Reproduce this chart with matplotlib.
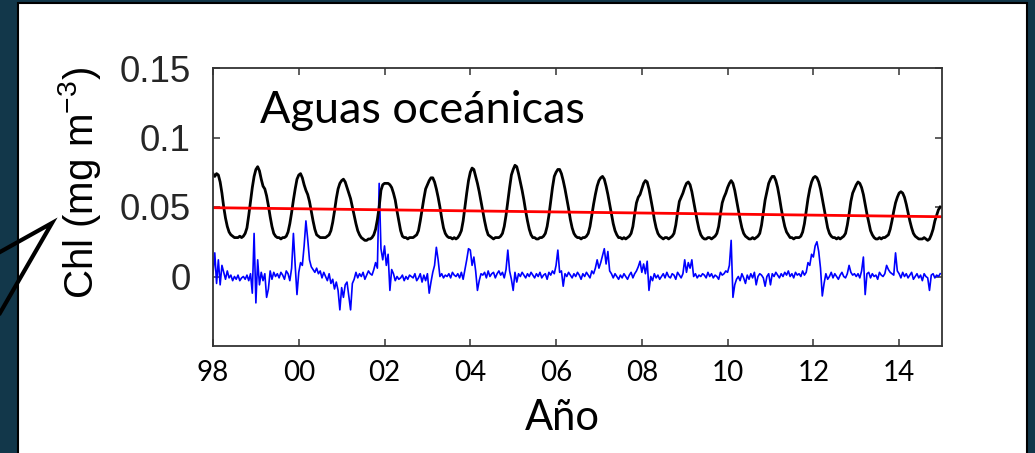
import numpy as np
import matplotlib
matplotlib.use("Agg")
import matplotlib.pyplot as plt
from matplotlib.patches import Rectangle
from matplotlib.lines import Line2D

plt.rcParams['mathtext.default'] = 'regular'

# Chl climatologia (x 1e-3 mg m-3), 24 valores por año, 1998-2014
chl_media = [
    74, 72, 74, 73, 68, 60, 50, 42, 36, 32, 30, 29, 28, 28, 28, 29, 28, 29, 31, 35, 44, 54, 64, 72,  # 98
    77, 79, 76, 70, 65, 63, 58, 51, 43, 36, 31, 29, 28, 28, 27, 28, 28, 29, 32, 38, 46, 55, 63, 70,  # 99
    73, 74, 71, 66, 62, 59, 54, 47, 40, 34, 30, 29, 28, 28, 28, 28, 29, 30, 33, 39, 47, 56, 63, 67,  # 00
    69, 70, 68, 64, 60, 56, 50, 44, 38, 33, 30, 28, 27, 26, 26, 27, 27, 28, 30, 34, 41, 50, 62, 66,  # 01
    67, 67, 67, 66, 64, 60, 55, 47, 40, 33, 29, 28, 28, 27, 28, 28, 28, 29, 30, 33, 40, 48, 56, 63,  # 02
    66, 69, 71, 71, 68, 63, 57, 50, 42, 35, 31, 29, 28, 28, 27, 28, 27, 28, 30, 33, 40, 50, 60, 69,  # 03
    75, 78, 77, 72, 67, 61, 54, 47, 40, 34, 30, 29, 28, 27, 28, 28, 28, 29, 31, 36, 44, 54, 64, 73,  # 04
    77, 80, 79, 74, 68, 62, 55, 47, 40, 34, 30, 28, 28, 27, 27, 28, 28, 29, 31, 36, 44, 54, 64, 72,  # 05
    75, 77, 77, 74, 69, 63, 56, 49, 41, 35, 31, 29, 28, 28, 27, 28, 28, 29, 31, 36, 44, 52, 59, 65,  # 06
    69, 71, 72, 70, 65, 59, 52, 45, 38, 33, 30, 28, 28, 27, 28, 27, 28, 29, 31, 36, 45, 53, 57, 59,  # 07
    63, 67, 69, 68, 63, 56, 49, 41, 35, 31, 29, 28, 27, 28, 28, 27, 28, 29, 31, 37, 46, 54, 57, 60,  # 08
    64, 67, 68, 66, 61, 54, 47, 40, 34, 30, 28, 27, 27, 28, 28, 27, 28, 29, 31, 36, 45, 53, 57, 60,  # 09
    64, 67, 69, 67, 62, 55, 48, 41, 35, 31, 29, 28, 27, 27, 28, 27, 28, 29, 31, 37, 46, 55, 61, 67,  # 10
    70, 72, 72, 69, 64, 57, 49, 42, 36, 32, 30, 28, 28, 27, 28, 28, 28, 29, 32, 38, 47, 56, 63, 68,  # 11
    71, 72, 71, 68, 63, 56, 49, 42, 35, 31, 29, 28, 28, 27, 28, 27, 28, 29, 31, 37, 45, 54, 60, 63,  # 12
    66, 68, 67, 64, 59, 52, 45, 39, 33, 30, 28, 27, 27, 28, 27, 28, 28, 29, 30, 34, 40, 47, 53, 57,  # 13
    60, 61, 60, 57, 52, 46, 40, 35, 31, 29, 28, 27, 27, 27, 28, 27, 26, 27, 30, 34, 40, 44, 48, 50,  # 14
]

# anomalias (x 1e-3 mg m-3)
chl_anom = [
    2, 17, -5, 12, -6, 8, 3, -2, 4, -1, 1, -3, 0, -2, 1, -3, -1, 0, -2, 1, -3, 2, -12, 31,
    -19, 12, -6, 3, -3, 2, -15, -9, 4, -2, 3, 0, 2, -1, 3, 1, -2, 4, 2, -3, 6, 31, 8, -13,
    3, 10, 8, 22, 40, 27, 12, 7, 5, 3, 6, 2, 4, -1, 3, 0, -3, 2, -5, -2, -9, -4, -10, -24,
    -8, -15, -6, -4, -14, -24, -5, -2, 3, -1, 2, 0, 3, -2, 1, 4, 2, 1, 5, 10, 6, 67, 20, 12,
    22, 8, 16, -10, 5, 2, -3, 0, -2, -1, 1, -3, 0, -2, 1, 0, -1, 2, -3, -1, 2, -4, 1, -3,
    2, -12, -4, 3, 8, 21, 12, 0, 2, -1, 1, 0, 2, -1, 3, 1, 0, 2, -1, 3, -2, 5, 12, 20,
    19, 8, 14, 4, -10, -3, 2, 1, 3, -1, 4, 0, 2, 3, -1, 2, 4, 1, 3, -1, 5, 19, 4, -2,
    -10, 3, -4, 2, 0, 3, 1, -1, 2, 0, 3, 1, -1, 2, 0, 3, -1, 1, 2, -2, 3, 1, 4, 2,
    8, 19, 3, 4, -7, 2, 0, 3, 1, -1, 2, 0, 3, 1, -2, 2, 0, 3, 1, -1, 4, 2, 6, 12,
    6, 10, 15, 20, 9, 18, 4, 2, -1, 2, 0, -2, 1, -1, 2, 0, -2, 1, 3, -1, 2, 4, 7, 11,
    3, 9, 2, 11, -10, 0, -3, 2, -1, 1, -2, 0, 2, -1, 3, 0, -1, 2, 1, -2, 3, 1, -1, 2,
    12, 3, 10, 6, 12, 0, 2, -1, 1, 0, 2, 1, -1, 3, 0, 2, -1, 1, 0, -2, 3, 1, 2, 4,
    3, 8, 26, -15, -6, -2, 0, -3, 2, -1, -5, 1, -2, 2, -1, 3, -6, 0, 2, 1, -1, -7, 0, 2,
    -6, 2, 0, 3, 1, -1, 2, 0, 3, 1, 4, 0, 2, -1, 3, 1, 2, 0, 4, 1, 3, 10, 8, 16,
    14, 22, 25, 18, 6, -14, -5, 2, -2, 0, 3, -1, 2, 0, -2, 1, 3, 0, -1, 2, 8, 3, 1, 2,
    0, 2, -1, 4, 14, -13, 2, 3, -1, 2, 0, 1, -2, 3, 1, 0, 2, 8, 5, 3, 2, 1, 17, 4,
    2, -1, 3, 0, 2, -1, 1, 3, -2, 0, 2, -1, 1, -3, 2, 0, -1, -10, 1, 2, -1, 1, 0, 2,
]

# tendencia lineal
trend_years = [1998, 2015]
trend_vals = [0.0495, 0.043]

xticks = [1998, 2000, 2002, 2004, 2006, 2008, 2010, 2012, 2014]
xlabels = ['98', '00', '02', '04', '06', '08', '10', '12', '14']
yticks = [0, 0.05, 0.1, 0.15]
ylabels = ['0', '0.05', '0.1', '0.15']

media = np.array(chl_media) / 1000.0
anom = np.array(chl_anom) / 1000.0
t = 1998 + np.arange(len(media)) / 24.0

W, H = 1035, 453
fig = plt.figure(figsize=(W / 100, H / 100), dpi=100, facecolor='#12374a')

# panel blanco
fig.add_artist(Rectangle((18 / W, -0.05), (1027 - 18) / W, 1 - 3 / H + 0.05,
                         transform=fig.transFigure, facecolor='white',
                         edgecolor='black', lw=1.5, zorder=-2))
# flecha del globo
px = [0, 52, 0]
py = [252, 223, 313]
fig.add_artist(Line2D([x / W for x in px], [1 - y / H for y in py],
                      transform=fig.transFigure, color='black', lw=3,
                      solid_joinstyle='miter', zorder=-1))

ax = fig.add_axes([213 / W, 1 - 346 / H, (942 - 213) / W, (346 - 68) / H])
ax.plot(t, anom, color='#0000ff', lw=1.2)
ax.plot(t, media, color='black', lw=2.0)
ax.plot(trend_years, trend_vals, color='#ff0000', lw=2.0)

ax.set_xlim(1998, 2015)
ax.set_ylim(-0.05, 0.15)
ax.set_xticks(xticks)
ax.set_xticklabels(xlabels, fontsize=20, family='Lato')
ax.set_yticks(yticks)
ax.set_yticklabels(ylabels, fontsize=26.5, family='Liberation Sans', color='#262626')
ax.tick_params(axis='both', direction='in', top=True, right=True,
               length=5, width=1.1, color='#333333')
ax.tick_params(axis='y', pad=16)
ax.tick_params(axis='x', pad=10)
for s in ax.spines.values():
    s.set_color('#333333')
    s.set_linewidth(1.3)

ax.text(0.0645, 0.802, 'Aguas oceánicas', transform=ax.transAxes,
        fontsize=32.5, family='Lato', va='baseline', ha='left')
ax.set_ylabel('Chl (mg m$^{-3}$)', fontsize=29, family='Liberation Sans')
ax.yaxis.set_label_coords(-0.151, 0.586)
ax.text(562 / W, 1 - 430 / H, 'Año', transform=fig.transFigure,
        fontsize=30, family='Lato', ha='center', va='baseline')

fig.savefig('out.png', dpi=100, facecolor=fig.get_facecolor())
